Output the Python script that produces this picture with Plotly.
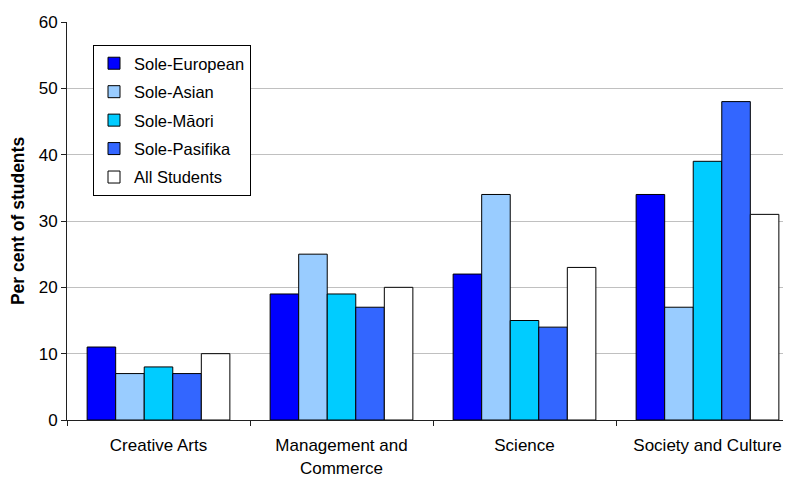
import plotly.graph_objects as go

categories = ["Creative Arts", "Management and<br>Commerce", "Science", "Society and Culture"]
series_names = ["Sole-European", "Sole-Asian", "Sole-Māori", "Sole-Pasifika", "All Students"]
sole_european = [11, 19, 22, 34]
sole_asian = [7, 25, 34, 17]
sole_maori = [8, 19, 15, 39]
sole_pasifika = [7, 17, 14, 48]
all_students = [10, 20, 23, 31]
y_ticks = [0, 10, 20, 30, 40, 50, 60]

values = [sole_european, sole_asian, sole_maori, sole_pasifika, all_students]
colors = ["#0000FF", "#99CCFF", "#00CCFF", "#3366FF", "#FFFFFF"]

fig = go.Figure()
for i, (name, vals, col) in enumerate(zip(series_names, values, colors)):
    fig.add_trace(go.Bar(
        x=categories, y=vals, name=name, legendgroup=str(i),
        marker=dict(color=col, line=dict(color="#000000", width=1)),
    ))

# page body has an 8px margin; compensate
OFF = 8
L, T, B = 67 - OFF, 22 - OFF, 57
W, H = 791 - OFF, 477 - OFF
pw = W - L
ph = H - T - B
cat_w = 183.0
xmax = pw / cat_w - 0.5

fig.update_layout(
    width=W, height=H,
    margin=dict(l=L, r=0, t=T, b=B, autoexpand=False),
    paper_bgcolor="white", plot_bgcolor="white",
    barmode="group", bargap=0.22, bargroupgap=0,
    font=dict(family="Liberation Sans, Arial, sans-serif", size=17, color="#000000"),
    showlegend=True,
    legend=dict(
        x=(93 - 67) / pw, y=(420 - 45) / ph, xanchor="left", yanchor="top",
        bordercolor="#000000", borderwidth=1, bgcolor="white",
        font=dict(size=16.5), tracegroupgap=4, traceorder="grouped",
        itemwidth=30,
    ),
    xaxis=dict(
        range=[-0.5, xmax], showgrid=False, showline=True, linecolor="#202020", linewidth=1,
        ticks="outside", tickson="boundaries", ticklen=5, tickcolor="#202020",
        tickfont=dict(size=17), ticklabelstandoff=10, fixedrange=True,
    ),
    yaxis=dict(
        range=[0, 60], tickvals=y_ticks, showgrid=True, gridcolor="#C0C0C0", gridwidth=1,
        showline=True, linecolor="#202020", linewidth=1,
        ticks="outside", ticklen=5, tickcolor="#202020", tickfont=dict(size=17),
        title=dict(text="<b>Per cent of students</b>", font=dict(size=17.5), standoff=10),
        zeroline=False,
    ),
)

fig.write_html("out.html")
